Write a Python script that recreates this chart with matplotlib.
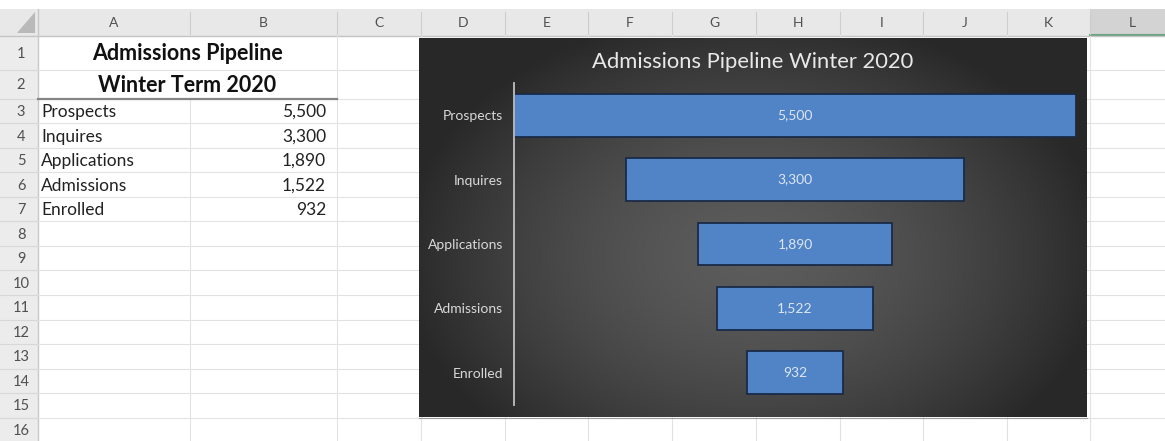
import numpy as np
import matplotlib.pyplot as plt
from matplotlib.patches import Rectangle, Polygon

plt.rcParams['font.family'] = ['Lato', 'DejaVu Sans']

# data in the sheet / chart
stages = ['Prospects', 'Inquires', 'Applications', 'Admissions', 'Enrolled']
counts = [5500, 3300, 1890, 1522, 932]
sheet_title = ['Admissions Pipeline', 'Winter Term 2020']
chart_title = 'Admissions Pipeline Winter 2020'
col_letters = ['A', 'B', 'C', 'D', 'E', 'F', 'G', 'H', 'I', 'J', 'K', 'L']
row_numbers = list(range(1, 17))

W, H = 1165, 441
fig = plt.figure(figsize=(W / 100, H / 100), dpi=100)
sheet = fig.add_axes([0, 0, 1, 1])

# grid geometry of the worksheet (pixels)
col_edges = [38, 190, 337, 421, 505, 588, 672, 756, 840, 923, 1007, 1090, 1175]
row_edges = [36, 69.5, 98.7] + [98.7 + 24.54 * k for k in range(1, 15)]

# headers
sheet.add_patch(Rectangle((0, 9), W, 27, fc='#e8e8e8', ec='none', zorder=0))
sheet.add_patch(Rectangle((1090, 9), 80, 27, fc='#d3d3d3', ec='none', zorder=0))
sheet.plot([1090, W], [35, 35], color='#6aa283', lw=1.5, zorder=1)
sheet.add_patch(Rectangle((0, 36), 38, H, fc='#ececec', ec='none', zorder=0))
sheet.add_patch(Polygon([(17, 33), (35, 33), (35, 12)], closed=True, fc='#b9b9b9', ec='none', zorder=1))
sheet.plot([0, W], [36, 36], color='#c4c4c4', lw=1, zorder=1)
sheet.plot([38, 38], [9, H], color='#c8c8c8', lw=1, zorder=1)

# gridlines
for yy in row_edges[1:]:
    sheet.plot([0, 38], [yy, yy], color='#d8d8d8', lw=0.8, zorder=1)
    sheet.plot([38, W], [yy, yy], color='#e2e2e2', lw=0.8, zorder=1)
for xx in col_edges[1:-1]:
    sheet.plot([xx, xx], [12, 34], color='#cdcdcd', lw=0.8, zorder=1)
    y0 = row_edges[2] if xx == 190 else 36
    sheet.plot([xx, xx], [y0, H], color='#e2e2e2', lw=0.8, zorder=1)
sheet.plot([38, 337], [row_edges[2], row_edges[2]], color='#858585', lw=1.6, zorder=2)

for i, c in enumerate(col_letters):
    sheet.text((col_edges[i] + col_edges[i + 1]) / 2, 23, c, ha='center', va='center',
               fontsize=10, color='#505050', zorder=2)
for i, r in enumerate(row_numbers):
    sheet.text(21, (row_edges[i] + row_edges[i + 1]) / 2 + 1, str(r), ha='center', va='center',
               fontsize=10.5, color='#505050', zorder=2)

for i, t in enumerate(sheet_title):
    sheet.text(187.5, (row_edges[i] + row_edges[i + 1]) / 2 + 1, t, ha='center', va='center',
               fontsize=15.5, fontweight='bold', color='#111111', zorder=2)
for i, (s, v) in enumerate(zip(stages, counts)):
    yc = (row_edges[i + 2] + row_edges[i + 3]) / 2 + 1
    sheet.text(41, yc, s, ha='left', va='center', fontsize=12.5, color='#222222', zorder=2)
    sheet.text(326, yc, f'{v:,}', ha='right', va='center', fontsize=12.5, color='#222222', zorder=2)

# chart area with radial gradient fill
cx0, cx1, cy0, cy1 = 419, 1087, 38, 417
xs = np.linspace(-1, 1, 400)
ys = np.linspace(-1, 1, 240)
X, Y = np.meshgrid(xs, ys)
r = np.sqrt((X / 1.05) ** 2 + ((Y - 0.15) / 1.3) ** 2)
t = np.clip(r, 0, 1) ** 1.6
inner = np.array([0.36, 0.36, 0.36])
outer = np.array([0.16, 0.16, 0.16])
img = inner[None, None, :] * (1 - t[..., None]) + outer[None, None, :] * t[..., None]
sheet.imshow(img, extent=(cx0, cx1, cy1, cy0), aspect='auto', zorder=3, interpolation='bilinear')
sheet.plot([cx0, cx1], [cy1 + 0.5, cy1 + 0.5], color='#9a9a9a', lw=0.8, zorder=3)
sheet.text(753, 62, chart_title, ha='center', va='center', fontsize=15.8, color='#e8e8e8', zorder=4)

sheet.set_xlim(0, W)
sheet.set_ylim(H, 0)
sheet.axis('off')

# funnel: bars centred on the widest stage
ax = fig.add_axes([514 / W, 1 - 405 / H, (1076 - 514) / W, (405 - 83) / H])
ax.set_facecolor('none')
pos = np.arange(len(stages))
vals = np.array(counts)
bars = ax.barh(pos, vals, left=(vals.max() - vals) / 2, height=0.665,
               color='#5084c7', edgecolor='#1b2a47', linewidth=1.3)
ax.bar_label(bars, labels=[f'{v:,}' for v in counts], label_type='center',
             color='#dde6f2', fontsize=10)
ax.set_xlim(0, vals.max())
ax.set_ylim(len(stages) - 0.5, -0.5)
ax.set_yticks(pos, stages)
ax.set_xticks([])
ax.tick_params(axis='y', length=0, pad=8, labelcolor='#d9d9d9', labelsize=10)
for side in ['top', 'right', 'bottom']:
    ax.spines[side].set_visible(False)
ax.spines['left'].set_color('#bfbfbf')
ax.spines['left'].set_linewidth(1.3)

fig.savefig('out.png', dpi=100)
